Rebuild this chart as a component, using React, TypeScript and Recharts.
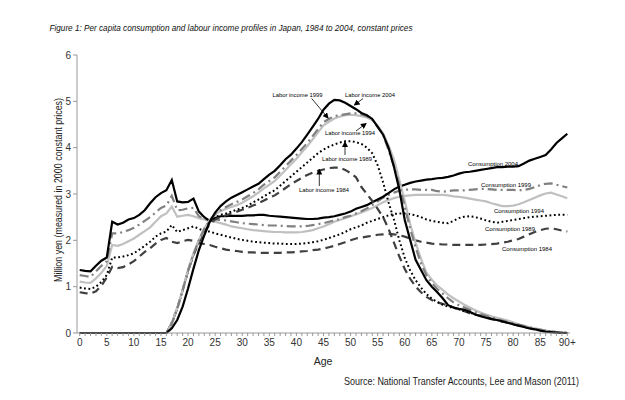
import React from 'react';
import { LineChart, Line, XAxis, YAxis } from 'recharts';

// ages 0..90 (90 = "90+")
const ages = [
  0, 1, 2, 3, 4, 5, 6, 7, 8, 9, 10, 11, 12, 13, 14, 15, 16, 17, 18, 19,
  20, 21, 22, 23, 24, 25, 26, 27, 28, 29, 30, 31, 32, 33, 34, 35, 36, 37, 38, 39,
  40, 41, 42, 43, 44, 45, 46, 47, 48, 49, 50, 51, 52, 53, 54, 55, 56, 57, 58, 59,
  60, 61, 62, 63, 64, 65, 66, 67, 68, 69, 70, 71, 72, 73, 74, 75, 76, 77, 78, 79,
  80, 81, 82, 83, 84, 85, 86, 87, 88, 89, 90,
];

const yTicks = [0, 1, 2, 3, 4, 5, 6];

// consumption profiles, million yen
const cons2004 = [
  1.36, 1.34, 1.33, 1.45, 1.56, 1.63, 2.40, 2.34, 2.38, 2.45,
  2.48, 2.55, 2.65, 2.80, 2.93, 3.02, 3.08, 3.30, 2.84, 2.82,
  2.83, 2.90, 2.62, 2.50, 2.42, 2.48, 2.52, 2.52, 2.53, 2.53,
  2.53, 2.54, 2.54, 2.55, 2.55, 2.53, 2.52, 2.51, 2.50, 2.49,
  2.48, 2.47, 2.46, 2.46, 2.47, 2.49, 2.50, 2.52, 2.55, 2.58,
  2.62, 2.68, 2.72, 2.76, 2.82, 2.88, 2.94, 3.02, 3.10, 3.16,
  3.20, 3.24, 3.27, 3.29, 3.31, 3.32, 3.34, 3.35, 3.37, 3.40,
  3.44, 3.47, 3.48, 3.50, 3.52, 3.54, 3.56, 3.58, 3.58, 3.59,
  3.59, 3.60, 3.66, 3.72, 3.76, 3.80, 3.84, 3.96, 4.10, 4.20,
  4.30,
];
const cons1999 = [
  1.25, 1.23, 1.21, 1.33, 1.45, 1.55, 2.15, 2.15, 2.18, 2.22,
  2.27, 2.34, 2.42, 2.50, 2.60, 2.70, 2.75, 2.96, 2.65, 2.66,
  2.69, 2.70, 2.52, 2.46, 2.45, 2.45, 2.44, 2.43, 2.41, 2.39,
  2.37, 2.36, 2.35, 2.34, 2.33, 2.32, 2.32, 2.31, 2.31, 2.30,
  2.30, 2.30, 2.31, 2.33, 2.35, 2.37, 2.40, 2.43, 2.46, 2.50,
  2.53, 2.58, 2.63, 2.69, 2.76, 2.84, 2.92, 2.98, 3.03, 3.07,
  3.09, 3.10, 3.10, 3.09, 3.09, 3.09, 3.06, 3.05, 3.06, 3.08,
  3.08, 3.08, 3.09, 3.10, 3.11, 3.11, 3.10, 3.09, 3.09, 3.09,
  3.09, 3.08, 3.09, 3.11, 3.15, 3.19, 3.22, 3.23, 3.20, 3.17,
  3.14,
];
const cons1994 = [
  1.11, 1.09, 1.08, 1.18, 1.30, 1.45, 1.90, 1.88, 1.92, 1.98,
  2.04, 2.12, 2.20, 2.28, 2.40, 2.52, 2.58, 2.73, 2.51, 2.53,
  2.55, 2.52, 2.48, 2.45, 2.42, 2.40, 2.37, 2.34, 2.30, 2.28,
  2.26, 2.24, 2.22, 2.21, 2.20, 2.19, 2.18, 2.18, 2.17, 2.17,
  2.17, 2.18, 2.20, 2.22, 2.26, 2.30, 2.35, 2.40, 2.44, 2.48,
  2.52, 2.56, 2.60, 2.65, 2.70, 2.76, 2.82, 2.87, 2.91, 2.94,
  2.96, 2.97, 2.98, 2.98, 2.98, 2.98, 2.98, 2.98, 2.97, 2.95,
  2.94, 2.92, 2.90, 2.88, 2.86, 2.84, 2.80, 2.77, 2.74, 2.74,
  2.75, 2.78, 2.82, 2.87, 2.92, 2.97, 3.01, 3.03, 2.99, 2.95,
  2.91,
];
const cons1989 = [
  0.98, 0.96, 0.95, 1.00, 1.10, 1.25, 1.63, 1.63, 1.65, 1.68,
  1.72, 1.80, 1.88, 1.97, 2.08, 2.15, 2.19, 2.33, 2.18, 2.22,
  2.26, 2.30, 2.25, 2.20, 2.19, 2.15, 2.12, 2.09, 2.06, 2.03,
  2.01, 1.99, 1.97, 1.96, 1.95, 1.94, 1.93, 1.93, 1.92, 1.92,
  1.92, 1.93, 1.94, 1.96, 1.98, 2.01, 2.05, 2.09, 2.13, 2.18,
  2.24, 2.28, 2.32, 2.38, 2.42, 2.46, 2.50, 2.54, 2.57, 2.58,
  2.58, 2.56, 2.54, 2.50, 2.45, 2.42, 2.40, 2.38, 2.37, 2.42,
  2.48, 2.51, 2.52, 2.50, 2.47, 2.43, 2.40, 2.38, 2.40, 2.42,
  2.44, 2.46, 2.48, 2.50, 2.51, 2.52, 2.53, 2.54, 2.55, 2.55,
  2.55,
];
const cons1984 = [
  0.88, 0.86, 0.85, 0.90, 1.02, 1.20, 1.43, 1.40, 1.42, 1.48,
  1.55, 1.65, 1.75, 1.83, 1.93, 2.01, 2.05, 1.97, 1.94, 1.98,
  2.01, 1.99, 1.94, 1.92, 1.90, 1.86, 1.83, 1.80, 1.78, 1.77,
  1.75, 1.74, 1.74, 1.73, 1.73, 1.73, 1.73, 1.73, 1.74, 1.74,
  1.75, 1.76, 1.77, 1.79, 1.80, 1.82, 1.85, 1.88, 1.92, 1.96,
  2.00, 2.04, 2.06, 2.08, 2.10, 2.12, 2.13, 2.14, 2.13, 2.11,
  2.08, 2.04, 2.00, 1.97, 1.95, 1.93, 1.92, 1.91, 1.91, 1.90,
  1.90, 1.90, 1.90, 1.90, 1.90, 1.91, 1.92, 1.93, 1.95, 1.97,
  2.00, 2.03, 2.08, 2.13, 2.18, 2.22, 2.25, 2.26, 2.24, 2.21,
  2.19,
];

// labour income profiles, million yen
const labor2004 = [
  0, 0, 0, 0, 0, 0, 0, 0, 0, 0,
  0, 0, 0, 0, 0, 0, 0, 0.10, 0.28, 0.57,
  0.96, 1.39, 1.79, 2.11, 2.40, 2.60, 2.74, 2.84, 2.92, 2.98,
  3.04, 3.10, 3.16, 3.22, 3.32, 3.42, 3.50, 3.62, 3.75, 3.85,
  3.98, 4.12, 4.28, 4.45, 4.62, 4.82, 4.95, 5.03, 5.02, 4.97,
  4.90, 4.83, 4.75, 4.70, 4.62, 4.45, 4.28, 4.00, 3.59, 3.09,
  2.44, 2.01, 1.58, 1.36, 1.14, 1.00, 0.88, 0.75, 0.60, 0.55,
  0.52, 0.50, 0.46, 0.40, 0.36, 0.33, 0.30, 0.28, 0.25, 0.22,
  0.19, 0.16, 0.13, 0.10, 0.08, 0.05, 0.03, 0.02, 0.01, 0,
  0,
];
const labor1999 = [
  0, 0, 0, 0, 0, 0, 0, 0, 0, 0,
  0, 0, 0, 0, 0, 0, 0, 0.20, 0.52, 0.92,
  1.34, 1.70, 2.00, 2.25, 2.43, 2.57, 2.65, 2.72, 2.78, 2.83,
  2.88, 2.95, 3.02, 3.10, 3.20, 3.28, 3.36, 3.48, 3.60, 3.72,
  3.84, 3.97, 4.10, 4.25, 4.40, 4.55, 4.62, 4.68, 4.70, 4.72,
  4.74, 4.74, 4.72, 4.68, 4.60, 4.45, 4.28, 3.95, 3.60, 3.20,
  2.72, 2.25, 1.85, 1.50, 1.25, 1.08, 0.95, 0.85, 0.75, 0.66,
  0.60, 0.55, 0.50, 0.45, 0.41, 0.37, 0.33, 0.30, 0.27, 0.24,
  0.21, 0.18, 0.15, 0.12, 0.09, 0.07, 0.05, 0.03, 0.02, 0.01,
  0,
];
const labor1994 = [
  0, 0, 0, 0, 0, 0, 0, 0, 0, 0,
  0, 0, 0, 0, 0, 0, 0, 0.22, 0.54, 0.93,
  1.36, 1.72, 2.01, 2.26, 2.44, 2.56, 2.63, 2.68, 2.72, 2.76,
  2.81, 2.88, 2.95, 3.03, 3.12, 3.20, 3.28, 3.40, 3.52, 3.64,
  3.76, 3.90, 4.03, 4.18, 4.33, 4.48, 4.56, 4.63, 4.67, 4.70,
  4.71, 4.70, 4.68, 4.65, 4.60, 4.48, 4.31, 4.05, 3.75, 3.30,
  2.85, 2.35, 1.95, 1.60, 1.30, 1.15, 1.02, 0.93, 0.83, 0.75,
  0.68, 0.61, 0.55, 0.49, 0.44, 0.40, 0.36, 0.33, 0.30, 0.27,
  0.23, 0.19, 0.16, 0.13, 0.10, 0.08, 0.05, 0.03, 0.02, 0.01,
  0,
];
const labor1989 = [
  0, 0, 0, 0, 0, 0, 0, 0, 0, 0,
  0, 0, 0, 0, 0, 0, 0, 0.22, 0.53, 0.92,
  1.35, 1.70, 1.98, 2.22, 2.40, 2.50, 2.55, 2.58, 2.62, 2.66,
  2.70, 2.75, 2.82, 2.88, 2.95, 3.02, 3.08, 3.18, 3.28, 3.38,
  3.48, 3.58, 3.68, 3.78, 3.88, 3.96, 4.02, 4.07, 4.11, 4.14,
  4.14, 4.12, 4.08, 4.00, 3.88, 3.62, 3.25, 2.82, 2.45, 2.00,
  1.62, 1.35, 1.14, 0.98, 0.84, 0.74, 0.67, 0.61, 0.57, 0.54,
  0.51, 0.47, 0.44, 0.40, 0.37, 0.34, 0.31, 0.28, 0.25, 0.22,
  0.20, 0.17, 0.14, 0.12, 0.09, 0.07, 0.05, 0.03, 0.02, 0.01,
  0,
];
const labor1984 = [
  0, 0, 0, 0, 0, 0, 0, 0, 0, 0,
  0, 0, 0, 0, 0, 0, 0, 0.22, 0.53, 0.92,
  1.34, 1.68, 1.95, 2.18, 2.35, 2.45, 2.50, 2.54, 2.58, 2.62,
  2.66, 2.70, 2.75, 2.80, 2.86, 2.92, 2.97, 3.05, 3.13, 3.21,
  3.28, 3.35, 3.41, 3.46, 3.50, 3.53, 3.56, 3.57, 3.57, 3.52,
  3.45, 3.36, 3.15, 3.00, 2.85, 2.68, 2.50, 2.25, 1.95, 1.65,
  1.38, 1.17, 1.00, 0.88, 0.78, 0.71, 0.66, 0.63, 0.59, 0.55,
  0.51, 0.47, 0.43, 0.40, 0.37, 0.34, 0.31, 0.28, 0.25, 0.22,
  0.19, 0.16, 0.13, 0.11, 0.09, 0.07, 0.05, 0.03, 0.02, 0.01,
  0,
];

const data = ages.map((age, i) => ({
  age,
  c1984: cons1984[i],
  c1989: cons1989[i],
  c1994: cons1994[i],
  c1999: cons1999[i],
  c2004: cons2004[i],
  l1984: labor1984[i],
  l1989: labor1989[i],
  l1994: labor1994[i],
  l1999: labor1999[i],
  l2004: labor2004[i],
}));

// line style per survey year
const styles: Record<string, { stroke: string; dash?: string; width: number }> = {
  '1984': { stroke: '#404040', dash: '8 5', width: 2.2 },
  '1989': { stroke: '#000000', dash: '1.8 2.6', width: 2 },
  '1994': { stroke: '#c0c0c0', width: 2.2 },
  '1999': { stroke: '#808080', dash: '9 4 2 4', width: 2.2 },
  '2004': { stroke: '#000000', width: 2.2 },
};
const years = ['1984', '1989', '1994', '1999', '2004'];

const font = '"Liberation Sans", Arial, sans-serif';
const narrow = '"Liberation Sans Narrow", "Liberation Sans", Arial, sans-serif';

const AgeTick = (props: any) => {
  const { x, y, payload } = props;
  const age = payload.value;
  if (age % 5 !== 0) return <g />;
  return (
    <text x={x} y={y} dy={8} textAnchor="middle" fontSize={10} fill="#333" fontFamily={font}>
      {age === 90 ? '90+' : age}
    </text>
  );
};

// annotation labels on the curves
const notes = [
  { text: 'Labor income 1999', x: 297.5, y: 97, arrow: [311.7, 98.5, 328, 118] },
  { text: 'Labor income 2004', x: 370, y: 97, arrow: [363, 98.5, 354.5, 105] },
  { text: 'Labor income 1994', x: 350, y: 135, arrow: [356, 131, 366, 123.5] },
  { text: 'Labor income 1989', x: 347, y: 160.5, arrow: [345, 155, 345, 142] },
  { text: 'Labor income 1984', x: 324, y: 191.5, arrow: [319.3, 186, 319.3, 169.5] },
  { text: 'Consumption 2004', x: 493, y: 165.5 },
  { text: 'Consumption 1999', x: 506, y: 186.5 },
  { text: 'Consumption 1994', x: 519, y: 213 },
  { text: 'Consumption 1989', x: 510, y: 230.5 },
  { text: 'Consumption 1984', x: 527, y: 250.5 },
];

export default function App() {
  return (
    <div style={{ position: 'absolute', left: 0, top: 0, width: 625, height: 400, background: '#fff' }}>
      <LineChart width={625} height={400} data={data} margin={{ top: 55, right: 55, bottom: 37, left: 0 }}>
        <XAxis
          dataKey="age"
          interval={0}
          height={30}
          tick={<AgeTick />}
          tickSize={3}
          tickLine={{ stroke: '#999' }}
          axisLine={{ stroke: '#999' }}
          padding={{ left: 2.7, right: 2.7 }}
        />
        <XAxis xAxisId="top" orientation="top" dataKey="age" height={0} tick={false} tickLine={false} axisLine={{ stroke: '#aaa' }} />
        <YAxis
          domain={[0, 6]}
          ticks={yTicks}
          width={77}
          tickSize={4}
          tickLine={{ stroke: '#999' }}
          axisLine={{ stroke: '#999' }}
          tick={{ fontSize: 10, fill: '#333', fontFamily: font }}
        />
        <YAxis yAxisId="right" orientation="right" width={0} domain={[0, 6]} tick={false} tickLine={false} axisLine={{ stroke: '#aaa' }} />
        {years.map((yr) => (
          <Line
            key={'c' + yr}
            dataKey={'c' + yr}
            type="linear"
            stroke={styles[yr].stroke}
            strokeWidth={styles[yr].width}
            strokeDasharray={styles[yr].dash}
            dot={false}
            activeDot={false}
            isAnimationActive={false}
          />
        ))}
        {years.map((yr) => (
          <Line
            key={'l' + yr}
            dataKey={'l' + yr}
            type="linear"
            stroke={styles[yr].stroke}
            strokeWidth={styles[yr].width}
            strokeDasharray={styles[yr].dash}
            dot={false}
            activeDot={false}
            isAnimationActive={false}
          />
        ))}
      </LineChart>
      <svg width={625} height={400} style={{ position: 'absolute', left: 0, top: 0, pointerEvents: 'none' }}>
        <defs>
          <marker id="arr" markerWidth="6" markerHeight="6" refX="5" refY="3" orient="auto" markerUnits="userSpaceOnUse">
            <path d="M0,0 L6,3 L0,6 z" fill="#000" />
          </marker>
        </defs>
        <text x={49.5} y={31} fontSize={9.5} fontStyle="italic" fill="#111" fontFamily={font} textLength={363} lengthAdjust="spacingAndGlyphs">
          Figure 1:  Per capita consumption and labour income profiles in Japan, 1984 to 2004, constant prices
        </text>
        <text
          x={62}
          y={190}
          transform="rotate(-90 62 190)"
          textAnchor="middle"
          fontSize={10}
          fill="#222"
          fontFamily={font}
          textLength={184}
          lengthAdjust="spacingAndGlyphs"
        >
          Million yen (measured in 2000 constant prices)
        </text>
        <text x={323} y={365} textAnchor="middle" fontSize={10.5} fill="#222" fontFamily={font}>
          Age
        </text>
        <text x={579} y={385} textAnchor="end" fontSize={10.5} fill="#222" fontFamily={narrow} textLength={235} lengthAdjust="spacingAndGlyphs">
          Source: National Transfer Accounts, Lee and Mason (2011)
        </text>
        {notes.map((n) => (
          <g key={n.text}>
            <text x={n.x} y={n.y} textAnchor="middle" fontSize={6.2} fill="#000" fontFamily={font} textLength={50} lengthAdjust="spacingAndGlyphs">
              {n.text}
            </text>
            {n.arrow && (
              <line x1={n.arrow[0]} y1={n.arrow[1]} x2={n.arrow[2]} y2={n.arrow[3]} stroke="#000" strokeWidth={0.8} markerEnd="url(#arr)" />
            )}
          </g>
        ))}
      </svg>
    </div>
  );
}
